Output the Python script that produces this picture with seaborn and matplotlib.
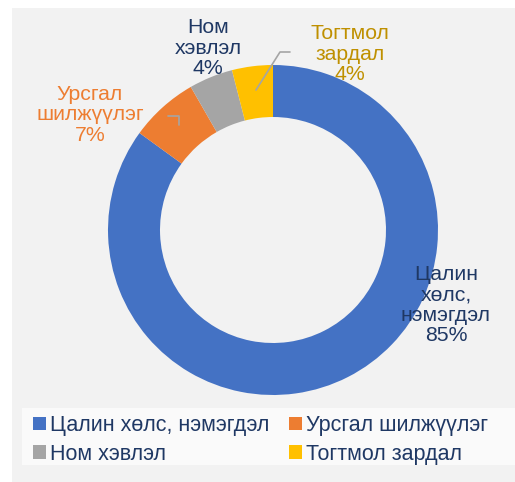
import matplotlib
matplotlib.use("Agg")
import matplotlib.pyplot as plt
import seaborn as sns
from matplotlib.patches import Rectangle

categories = ["Цалин хөлс, нэмэгдэл", "Урсгал шилжүүлэг", "Ном хэвлэл", "Тогтмол зардал"]
values = [85.0, 6.7, 4.3, 4.0]
pct_labels = ["85%", "7%", "4%", "4%"]
slice_labels = ["Цалин\nхөлс,\nнэмэгдэл\n85%", "Урсгал\nшилжүүлэг\n7%", "Ном\nхэвлэл\n4%", "Тогтмол\nзардал\n4%"]

sns.set_style("white")
plt.rcParams['font.family'] = ['Liberation Sans', 'DejaVu Sans']

colors = ["#4472C4", "#ED7D31", "#A5A5A5", "#FFC000"]
label_colors = ["#1F3864", "#ED7D31", "#1F3864", "#BF9000"]
navy = "#1F3864"

W, H = 515, 482
fig = plt.figure(figsize=(W / 100, H / 100), dpi=100, facecolor="white")
ax = fig.add_axes([0, 0, 1, 1])

cx, cy, R = 273, H - 230, 165
wedges, _ = ax.pie(values, colors=colors, startangle=90, counterclock=False,
                   center=(cx, cy), radius=R, frame=True,
                   wedgeprops=dict(width=52, edgecolor="none"))
ax.set_xlim(0, W)
ax.set_ylim(0, H)
ax.set_aspect("equal")
ax.axis("off")

# chart area background
ax.add_patch(Rectangle((12, 0), W - 12, H - 8, facecolor="#F2F2F2", edgecolor="none", zorder=0))
# legend area background
ax.add_patch(Rectangle((22, H - 465), W - 22, 57, facecolor="#FAFAFA", edgecolor="none", zorder=0.5))

fs = 15.3
pos = [(446, H - 305), (90, H - 115), (208, H - 48), (350, H - 54)]
for lab, (x, y), c in zip(slice_labels, pos, label_colors):
    ax.text(x, y, lab, ha="center", va="center", fontsize=fs, color=c, linespacing=1.1)

# leader lines
ax.plot([290, 280, 256], [H - 52, H - 52, H - 90], color="#A5A5A5", lw=1.2)
ax.plot([168, 179, 179], [H - 116, H - 116, H - 125], color="#A5A5A5", lw=1.2)

order = [0, 2, 1, 3]
leg = ax.legend([wedges[i] for i in order], [categories[i] for i in order], ncol=2,
                loc="upper left", bbox_to_anchor=(33 / W, 1 - 415 / H),
                bbox_transform=fig.transFigure, frameon=False, fontsize=15.5,
                handlelength=0.6, handleheight=0.6, handletextpad=0.2,
                columnspacing=0.9, labelspacing=0.36, borderaxespad=0, borderpad=0)
for t in leg.get_texts():
    t.set_color(navy)

fig.savefig("out.png", dpi=100, facecolor="white")
